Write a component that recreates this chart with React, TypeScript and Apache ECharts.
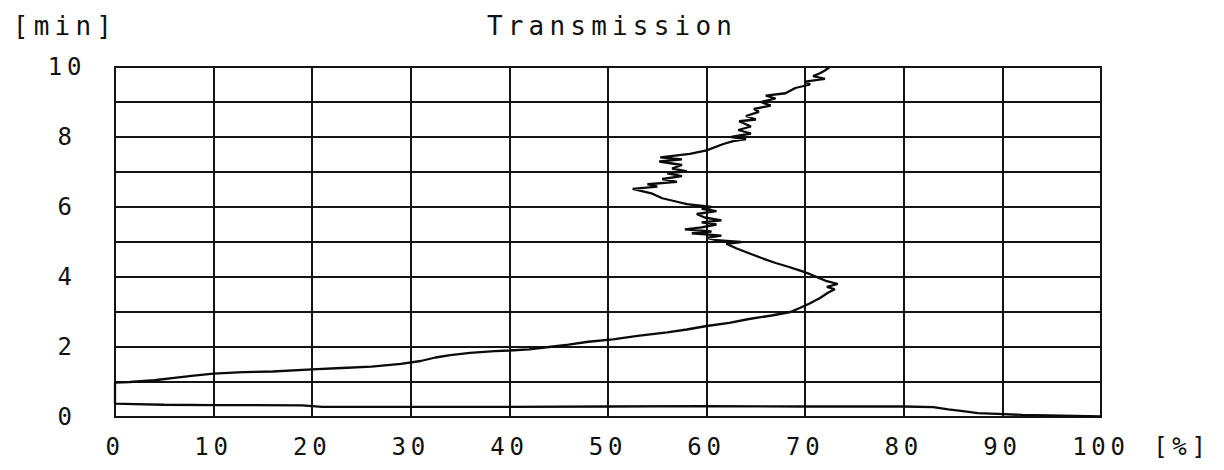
import { useEffect, useRef } from "react";
import * as echarts from "echarts";

// Axis ranges
const percentMin = 0;
const percentMax = 100;
const percentStep = 10;
const minutesMin = 0;
const minutesMax = 10;
const minutesLabelStep = 2;

// Phase 1: quick fall from full transmission to zero
const dropPct = [100, 96, 92, 89.5, 87.5, 86, 84.5, 83, 80, 70, 60, 50, 40, 30, 21, 19, 14, 10, 5, 2, 0, 0];
const dropMin = [0.02, 0.04, 0.06, 0.09, 0.11, 0.17, 0.22, 0.28, 0.3, 0.3, 0.31, 0.3, 0.29, 0.29, 0.29, 0.33, 0.34, 0.34, 0.35, 0.37, 0.38, 0.98];

// Phase 2: recovery and peak
const risePct = [1.5, 4, 6, 8, 10, 13, 16, 20, 23, 26, 29, 31, 32.5, 34, 36, 38.5, 40, 42, 44, 46, 48, 50.5, 53, 56, 58, 60, 62.3, 64.3, 66.6, 68.5, 69.5, 70.5, 71.5, 72.3, 73, 72.2, 73.3, 72.2, 71.5, 70.5, 69.5, 68.2, 67, 65.5, 64.3, 63, 62];
const riseMin = [1.0, 1.05, 1.12, 1.18, 1.24, 1.28, 1.3, 1.36, 1.4, 1.44, 1.52, 1.6, 1.7, 1.77, 1.83, 1.88, 1.9, 1.93, 2.0, 2.07, 2.15, 2.22, 2.32, 2.42, 2.5, 2.6, 2.69, 2.8, 2.9, 3.0, 3.12, 3.25, 3.4, 3.55, 3.65, 3.72, 3.8, 3.88, 3.96, 4.08, 4.18, 4.3, 4.4, 4.55, 4.68, 4.82, 4.95];

// Phase 3: noisy drift back up to ten minutes
const driftPct = [63.5, 61, 60, 61.5, 58.5, 60.5, 57.8, 59.5, 61, 59.5, 61.5, 59.8, 59, 61, 59.5, 60.5, 58, 57, 55.5, 54.5, 52.5, 55, 54, 57, 55.5, 57.5, 56, 58, 56.5, 57.5, 55.2, 57.5, 55.3, 58.3, 60, 61.7, 62.7, 64, 62.5, 64.5, 63.2, 64.5, 63.3, 65, 64, 65.3, 64.8, 66.5, 65.5, 67, 66, 68, 69, 70.5, 70, 72, 70.8, 71.5, 72, 72.5];
const driftMin = [5.0, 5.05, 5.12, 5.18, 5.25, 5.3, 5.36, 5.42, 5.5, 5.56, 5.62, 5.7, 5.8, 5.88, 5.95, 6.0, 6.08, 6.15, 6.25, 6.38, 6.52, 6.58, 6.65, 6.72, 6.8, 6.88, 6.96, 7.02, 7.1, 7.2, 7.3, 7.36, 7.42, 7.52, 7.62, 7.8, 7.88, 7.94, 8.0, 8.1, 8.2, 8.3, 8.45, 8.5, 8.6, 8.72, 8.8, 8.9, 9.0, 9.1, 9.18, 9.25, 9.4, 9.5, 9.58, 9.66, 9.74, 9.82, 9.9, 10];

const tracePct = [...dropPct, ...risePct, ...driftPct];
const traceMin = [...dropMin, ...riseMin, ...driftMin];

const ink = "#141414";
const textInk = "#111111";
const plotterFont = "'DejaVu Sans Mono', 'Liberation Mono', monospace";

export default function App() {
  const ref = useRef<HTMLDivElement>(null);

  useEffect(() => {
    if (!ref.current) return;
    const chart = echarts.init(ref.current, undefined, { renderer: "svg" });
    const points = tracePct.map((p, i) => [p, traceMin[i]]);
    const gridLine = { color: ink, width: 2 };

    chart.setOption({
      animation: false,
      backgroundColor: "#ffffff",
      grid: {
        left: 115,
        right: 123,
        top: 67,
        bottom: 53,
        show: true,
        borderColor: ink,
        borderWidth: 2,
        backgroundColor: "transparent",
      },
      xAxis: {
        type: "value",
        min: percentMin,
        max: percentMax,
        interval: percentStep,
        axisLine: { show: true, lineStyle: gridLine },
        axisTick: { show: false },
        splitLine: { show: true, lineStyle: gridLine },
        axisLabel: {
          margin: 18,
          color: textInk,
          fontSize: 24,
          fontFamily: plotterFont,
        },
      },
      yAxis: {
        type: "value",
        min: minutesMin,
        max: minutesMax,
        interval: minutesLabelStep,
        axisLine: { show: true, lineStyle: gridLine },
        axisTick: { show: false },
        splitLine: { show: true, lineStyle: gridLine },
        minorTick: { show: false, splitNumber: 2 },
        minorSplitLine: { show: true, lineStyle: gridLine },
        axisLabel: {
          margin: 48,
          align: "center",
          color: textInk,
          fontSize: 24,
          fontFamily: plotterFont,
        },
      },
      graphic: [
        {
          type: "text",
          x: 612,
          y: 26,
          style: {
            text: "Transmission",
            fill: textInk,
            fontSize: 26,
            fontFamily: plotterFont,
            textAlign: "center",
            textVerticalAlign: "middle",
          },
        },
        {
          type: "text",
          x: 65,
          y: 26,
          style: {
            text: "[min]",
            fill: textInk,
            fontSize: 26,
            fontFamily: plotterFont,
            textAlign: "center",
            textVerticalAlign: "middle",
          },
        },
        {
          type: "text",
          x: 1182,
          y: 447,
          style: {
            text: "[%]",
            fill: textInk,
            fontSize: 24,
            fontFamily: plotterFont,
            textAlign: "center",
            textVerticalAlign: "middle",
          },
        },
      ],
      series: [
        {
          type: "line",
          data: points,
          showSymbol: false,
          symbol: "none",
          lineStyle: { color: "#0a0a0a", width: 2.3 },
          z: 5,
        },
      ],
    });

    return () => chart.dispose();
  }, []);

  return (
    <>
      <style>{`.transmission-plot svg text { letter-spacing: 0.2em; }`}</style>
      <div
        ref={ref}
        className="transmission-plot"
        style={{ position: "fixed", left: 0, top: 0, width: 1224, height: 470 }}
      />
    </>
  );
}
